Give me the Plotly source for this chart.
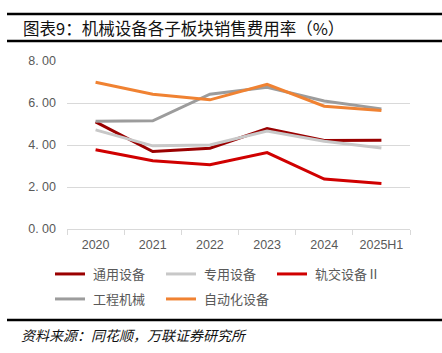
import plotly.graph_objects as go

categories = ["2020", "2021", "2022", "2023", "2024", "2025H1"]
general_equipment = [5.10, 3.69, 3.85, 4.78, 4.21, 4.23]
special_equipment = [4.72, 3.96, 4.00, 4.66, 4.18, 3.86]
rail_equipment = [3.77, 3.25, 3.06, 3.64, 2.38, 2.17]
construction_machinery = [5.13, 5.15, 6.42, 6.75, 6.10, 5.72]
automation_equipment = [6.99, 6.42, 6.15, 6.89, 5.85, 5.64]

series_names = ["通用设备", "专用设备", "轨交设备Ⅱ", "工程机械", "自动化设备"]
series_values = [general_equipment, special_equipment, rail_equipment,
                 construction_machinery, automation_equipment]
series_colors = ["#9A0000", "#C8C8C8", "#D00000", "#9C9C9C", "#F08232"]
legend_pos = [(50, 274), (161, 274), (272, 274), (50, 299), (161, 299)]

W, H = 442, 353
L, R, T, B = 67, 410, 61, 229

fig = go.Figure()
cjk = "Noto Sans CJK SC"
legends = {}
for i, (name, vals, color) in enumerate(zip(series_names, series_values, series_colors)):
    key = "legend" if i == 0 else f"legend{i + 1}"
    fig.add_trace(go.Scatter(x=categories, y=vals, name=" " + name, mode="lines",
                             line=dict(color=color, width=3), legend=key))
    lx, ly = legend_pos[i]
    legends[key] = dict(orientation="h", xref="container", yref="container",
                        x=lx / W, y=1 - ly / H, xanchor="left", yanchor="middle",
                        font=dict(family=cjk, size=13, color="#595959"),
                        bgcolor="rgba(0,0,0,0)", itemwidth=30)

def px_x(px):
    return (px - L) / (R - L)

def px_y(py):
    return (B - py) / (B - T)

fig.update_layout(
    width=W, height=H,
    margin=dict(l=L, r=W - R, t=T, b=H - B, autoexpand=False),
    paper_bgcolor="white", plot_bgcolor="white",
    showlegend=True,
    xaxis=dict(type="category", range=[-0.5, 5.5], showgrid=False,
               showline=True, linecolor="#D9D9D9", linewidth=1,
               ticks="outside", tickson="boundaries", ticklen=5, tickcolor="#D9D9D9",
               ticklabelstandoff=4,
               tickfont=dict(family="Liberation Sans, Arial", size=12.5, color="#595959"),
               fixedrange=True),
    yaxis=dict(range=[0, 8], tickvals=[0, 2, 4, 6, 8],
               ticktext=["0. 00", "2. 00", "4. 00", "6. 00", "8. 00"],
               showgrid=True, gridcolor="#D9D9D9", gridwidth=1,
               zeroline=False, showline=False, ticks="",
               ticklabelstandoff=10,
               tickfont=dict(family="Liberation Sans, Arial", size=12.5, color="#595959")),
    shapes=[
        dict(type="line", xref="paper", yref="paper", x0=px_x(7), x1=px_x(442),
             y0=px_y(14), y1=px_y(14), line=dict(color="black", width=2.5)),
        dict(type="line", xref="paper", yref="paper", x0=px_x(7), x1=px_x(442),
             y0=px_y(41), y1=px_y(41), line=dict(color="black", width=2.5)),
        dict(type="line", xref="paper", yref="paper", x0=px_x(7), x1=px_x(442),
             y0=px_y(320), y1=px_y(320), line=dict(color="black", width=2.5)),
    ],
    annotations=[
        dict(text="图表9：机械设备各子板块销售费用率（%）", xref="paper", yref="paper",
             x=px_x(21), y=px_y(27.5), xanchor="left", yanchor="middle", showarrow=False,
             font=dict(family=cjk, size=16.5, color="#111111")),
        dict(text="<i>资料来源：同花顺，万联证券研究所</i>", xref="paper", yref="paper",
             x=px_x(19), y=px_y(335), xanchor="left", yanchor="middle", showarrow=False,
             font=dict(family=cjk, size=14, color="#111111")),
    ],
)
fig.update_layout(**legends)

fig.write_html("out.html")
